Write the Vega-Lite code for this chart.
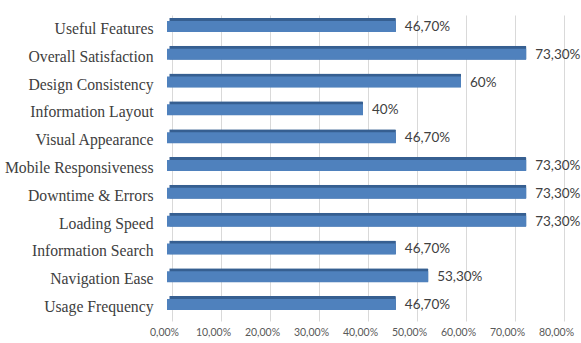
{
  "$schema": "https://vega.github.io/schema/vega-lite/v6.json",
  "width": 392,
  "height": 306,
  "autosize": {"type": "none"},
  "padding": {"left": 167, "top": 15, "right": 22, "bottom": 22},
  "background": "white",
  "data": {
    "values": [
      {"item": "Useful Features", "value": 0.467, "label": "46,70%"},
      {"item": "Overall Satisfaction", "value": 0.733, "label": "73,30%"},
      {"item": "Design Consistency", "value": 0.6, "label": "60%"},
      {"item": "Information Layout", "value": 0.4, "label": "40%"},
      {"item": "Visual Appearance", "value": 0.467, "label": "46,70%"},
      {"item": "Mobile Responsiveness", "value": 0.733, "label": "73,30%"},
      {"item": "Downtime & Errors", "value": 0.733, "label": "73,30%"},
      {"item": "Loading Speed", "value": 0.733, "label": "73,30%"},
      {"item": "Information Search", "value": 0.467, "label": "46,70%"},
      {"item": "Navigation Ease", "value": 0.533, "label": "53,30%"},
      {"item": "Usage Frequency", "value": 0.467, "label": "46,70%"}
    ]
  },
  "config": {
    "view": {"stroke": null},
    "locale": {"number": {"decimal": ",", "thousands": ".", "grouping": [3], "currency": ["", "€"]}}
  },
  "encoding": {
    "y": {
      "field": "item", "type": "nominal", "sort": null,
      "scale": {"paddingInner": 0, "paddingOuter": 0},
      "axis": {
        "title": null, "domain": false, "ticks": false, "labelPadding": 14,
        "labelFont": "Liberation Serif", "labelFontSize": 15.7, "labelColor": "#404040",
        "labelLimit": 200
      }
    },
    "x": {
      "field": "value", "type": "quantitative",
      "scale": {"domain": [0, 0.8], "nice": false},
      "axis": {
        "title": null, "format": ".2%", "values": [0, 0.1, 0.2, 0.3, 0.4, 0.5, 0.6, 0.7, 0.8],
        "domain": false, "ticks": false, "grid": true, "gridColor": "#d9d9d9", "gridWidth": 1,
        "tickOffset": 5, "labelOffset": -8, "labelPadding": 6, "labelOverlap": false, "labelFlush": false,
        "labelFont": "Lato", "labelFontSize": 10.5, "labelColor": "#595959"
      }
    }
  },
  "layer": [
    {"mark": {"type": "bar", "size": 14, "yOffset": -4, "xOffset": 2.5, "color": "#365f91", "cornerRadius": 1}},
    {"mark": {"type": "bar", "size": 11, "yOffset": -2.5, "color": "#4f81bd"}},
    {
      "mark": {"type": "text", "align": "left", "baseline": "middle", "dx": 9, "dy": -2, "font": "Lato", "fontSize": 13.5, "color": "#404040"},
      "encoding": {"text": {"field": "label"}}
    }
  ]
}
